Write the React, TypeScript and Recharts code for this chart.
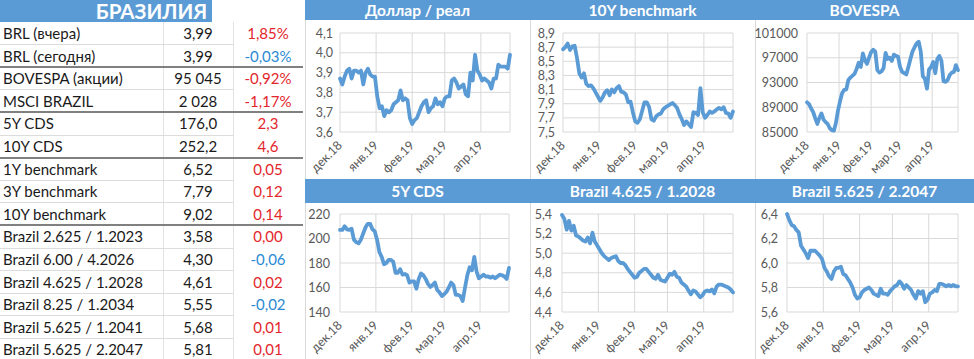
import React from 'react';
import { LineChart, Line, XAxis, YAxis, CartesianGrid } from 'recharts';

// ---------- DATA ----------
// x positions: days since 1 Dec 2018
const days = [0,2,4,6,8,10,12,14,16,18,20,22,24,26,28,30,32,34,36,38,40,42,44,46,48,50,52,54,56,58,60,62,64,66,68,70,72,74,76,78,80,82,84,86,88,90,92,94,96,98,100,102,104,106,108,110,112,114,116,118,120,122,124,126,128,130,132,134,136,138,140,142,144,146];
const monthTicks = [0, 31, 62, 90, 121];
const monthLabels = ['дек.18', 'янв.19', 'фев.19', 'мар.19', 'апр.19'];

const usdBrl = [
  3.87,3.84,3.88,3.91,3.92,3.87,3.91,3.91,3.90,3.91,
  3.84,3.90,3.92,3.89,3.88,3.88,3.78,3.72,3.73,3.68,
  3.71,3.70,3.71,3.74,3.75,3.76,3.81,3.76,3.77,3.76,
  3.67,3.64,3.66,3.67,3.70,3.73,3.75,3.76,3.70,3.72,
  3.73,3.77,3.74,3.75,3.73,3.77,3.78,3.78,3.86,3.87,
  3.85,3.82,3.83,3.84,3.79,3.78,3.90,3.86,3.99,3.91,
  3.89,3.86,3.87,3.86,3.85,3.82,3.87,3.87,3.94,3.93,
  3.93,3.93,3.92,3.99];
const bench10y = [
  8.67,8.70,8.75,8.66,8.71,8.72,8.55,8.33,8.27,8.33,
  8.18,8.15,8.16,8.12,8.06,8.00,7.94,7.99,8.06,8.09,
  8.02,8.10,8.06,8.12,8.15,8.07,8.06,8.03,7.92,7.93,
  7.78,7.65,7.63,7.68,7.80,7.92,7.92,7.85,7.68,7.66,
  7.72,7.75,7.76,7.82,7.85,7.87,7.89,7.91,7.88,7.84,
  7.75,7.68,7.60,7.65,7.61,7.57,7.78,7.77,7.74,8.12,
  7.78,7.70,7.74,7.79,7.77,7.79,7.82,7.84,7.82,7.85,
  7.77,7.76,7.70,7.79];
const bovespa = [
  89800,89500,88800,88200,87200,86300,87300,88000,87000,86600,
  86300,85600,85300,85200,86500,88500,90000,91300,91800,91900,
  93400,93800,94100,94400,95200,96200,95500,97700,96600,96000,
  97000,97900,98300,98000,95000,94600,94800,95300,97800,96800,
  97000,96500,97500,97300,97200,95500,94700,94500,94300,95500,
  96800,98000,98700,99300,99600,98000,94000,93600,92000,95100,
  95500,96300,94500,96800,97300,96500,93200,93100,93400,94200,
  94600,94700,95800,95000];
const cds5y = [
  207,207,210,207.5,207,208,199,197,196,199,
  204,209,212,212,207.5,206,199,189,185,179,
  180,182.5,182.5,181,172,172,175,170.5,171,170,
  164,165,165,159,167,171.5,170,167,163,160.5,
  162,164,158,156,153,154.5,156.5,160,164,162,
  154,154,153,149,160,170,176.5,174,185,173,
  167.5,169,170.5,169,169,168,169,167.5,169,170.5,
  170,169,167,176];
const brazil2028 = [
  5.39,5.35,5.24,5.33,5.23,5.28,5.18,5.17,5.15,5.13,
  5.12,5.16,5.10,5.21,5.12,5.08,5.04,5.00,4.97,4.95,
  4.93,4.95,4.96,4.97,4.92,4.90,4.90,4.88,4.84,4.81,
  4.78,4.75,4.76,4.80,4.82,4.84,4.84,4.81,4.78,4.75,
  4.74,4.78,4.73,4.72,4.71,4.75,4.79,4.78,4.81,4.76,
  4.75,4.70,4.68,4.66,4.62,4.58,4.62,4.61,4.58,4.55,
  4.57,4.61,4.62,4.61,4.63,4.59,4.66,4.68,4.68,4.67,
  4.66,4.65,4.63,4.60];
const brazil2047 = [
  6.40,6.35,6.31,6.30,6.27,6.25,6.14,6.11,6.08,6.04,
  6.10,6.10,6.10,6.08,6.06,6.03,5.96,5.93,5.89,5.87,
  5.93,5.96,5.96,5.97,5.91,5.90,5.87,5.84,5.80,5.74,
  5.71,5.72,5.76,5.78,5.79,5.80,5.78,5.75,5.74,5.73,
  5.79,5.75,5.75,5.74,5.77,5.79,5.81,5.82,5.85,5.83,
  5.79,5.82,5.80,5.78,5.74,5.71,5.77,5.75,5.77,5.68,
  5.70,5.75,5.76,5.78,5.77,5.83,5.83,5.82,5.81,5.82,
  5.81,5.82,5.81,5.81];

const usdBrlTicks = [3.6, 3.7, 3.8, 3.9, 4.0, 4.1];
const bench10yTicks = [7.5, 7.7, 7.9, 8.1, 8.3, 8.5, 8.7, 8.9];
const bovespaTicks = [85000, 89000, 93000, 97000, 101000];
const cds5yTicks = [140, 160, 180, 200, 220];
const brazil2028Ticks = [4.4, 4.6, 4.8, 5.0, 5.2, 5.4];
const brazil2047Ticks = [5.6, 5.8, 6.0, 6.2, 6.4];

const chartTitles = ['Доллар / реал', '10Y benchmark', 'BOVESPA', '5Y CDS', 'Brazil 4.625 / 1.2028', 'Brazil 5.625 / 2.2047'];

const tableTitle = 'БРАЗИЛИЯ';
const tableLabels = ['BRL (вчера)', 'BRL (сегодня)', 'BOVESPA (акции)', 'MSCI BRAZIL', '5Y CDS', '10Y CDS', '1Y benchmark', '3Y benchmark', '10Y benchmark', 'Brazil 2.625 / 1.2023', 'Brazil 6.00 / 4.2026', 'Brazil 4.625 / 1.2028', 'Brazil 8.25 / 1.2034', 'Brazil 5.625 / 1.2041', 'Brazil 5.625 / 2.2047'];
const tableValues = ['3,99', '3,99', '95 045', '2 028', '176,0', '252,2', '6,52', '7,79', '9,02', '3,58', '4,30', '4,61', '5,55', '5,68', '5,81'];
const tableChanges = ['1,85%', '-0,03%', '-0,92%', '-1,17%', '2,3', '4,6', '0,05', '0,12', '0,14', '0,00', '-0,06', '0,02', '-0,02', '0,01', '0,01'];
const changeTone = ['red', 'blue', 'red', 'red', 'red', 'red', 'red', 'red', 'red', 'red', 'blue', 'red', 'blue', 'red', 'red'];
const groupBreaks = [2, 4, 6, 9];

// ---------- STYLE ----------
const FONT = "Lato, 'Open Sans', sans-serif";
const BLUE = '#5b9bd5';
const AXIS_TEXT = '#595959';
const GRID = '#d9d9d9';
const RED = '#e3262b';
const TONE_BLUE = '#2a8ad4';
const TICK_FS = 12.5;

const comma1 = (v: number) => v.toFixed(1).replace('.', ',');
const plain = (v: number) => String(Math.round(v));

const monthName = (v: number) => {
  const i = monthTicks.indexOf(v);
  return i >= 0 ? monthLabels[i] : '';
};

const XTick = (props: any) => {
  const { x, y, payload } = props;
  return (
    <text
      transform={`translate(${x + 3},${y + 14}) rotate(-45)`}
      textAnchor="end"
      fill={AXIS_TEXT}
      fontSize={TICK_FS}
      fontFamily={FONT}
    >
      {monthName(payload.value)}
    </text>
  );
};

type Panel = {
  x: number; w: number; row: number; plotLeft: number; plotRight: number; yGap: number;
  values: number[]; ticks: number[]; fmt: (v: number) => string;
};

const panels: Panel[] = [
  { x: 305, w: 225, row: 0, plotLeft: 35, plotRight: 20, yGap: 7, values: usdBrl, ticks: usdBrlTicks, fmt: comma1 },
  { x: 530, w: 225, row: 0, plotLeft: 33, plotRight: 22, yGap: 8, values: bench10y, ticks: bench10yTicks, fmt: comma1 },
  { x: 755, w: 219, row: 0, plotLeft: 52, plotRight: 16, yGap: 9, values: bovespa, ticks: bovespaTicks, fmt: plain },
  { x: 305, w: 225, row: 1, plotLeft: 35, plotRight: 21, yGap: 10, values: cds5y, ticks: cds5yTicks, fmt: plain },
  { x: 530, w: 225, row: 1, plotLeft: 32, plotRight: 22, yGap: 10, values: brazil2028, ticks: brazil2028Ticks, fmt: comma1 },
  { x: 755, w: 219, row: 1, plotLeft: 32, plotRight: 16, yGap: 9, values: brazil2047, ticks: brazil2047Ticks, fmt: comma1 },
];

const rows = [
  { barTop: 0, barH: 20, chartTop: 20, chartH: 159, mTop: 13 },
  { barTop: 179, barH: 24, chartTop: 203, chartH: 156, mTop: 11 },
];

function MiniChart({ p }: { p: Panel }) {
  const r = rows[p.row];
  const data = days.map((d, i) => ({ d, v: p.values[i] }));
  const YTick = (props: any) => {
    const { x, y, payload } = props;
    return (
      <text x={x} y={y} dy={4.5} textAnchor="end" fill={AXIS_TEXT} fontSize={TICK_FS} fontFamily={FONT}>
        {p.fmt(payload.value)}
      </text>
    );
  };
  return (
    <div style={{ position: 'absolute', left: p.x, top: r.chartTop, width: p.w, height: r.chartH }}>
      <LineChart
        width={p.w}
        height={r.chartH}
        data={data}
        margin={{ top: r.mTop, right: p.plotRight, bottom: 0, left: 0 }}
      >
        <CartesianGrid stroke={GRID} strokeWidth={1} />
        <XAxis
          dataKey="d"
          type="number"
          domain={[0, 146]}
          ticks={monthTicks}
          interval={0}
          axisLine={false}
          tickLine={false}
          tickSize={0}
          tickMargin={0}
          height={47}
          tick={<XTick />}
        />
        <YAxis
          type="number"
          domain={[p.ticks[0], p.ticks[p.ticks.length - 1]]}
          ticks={p.ticks}
          interval={0}
          axisLine={false}
          tickLine={false}
          tickSize={0}
          tickMargin={p.yGap}
          width={p.plotLeft}
          tick={<YTick />}
        />
        <Line
          dataKey="v"
          type="linear"
          stroke={BLUE}
          strokeWidth={3.8}
          strokeLinejoin="round"
          strokeLinecap="round"
          dot={false}
          isAnimationActive={false}
        />
      </LineChart>
    </div>
  );
}

const ROW0 = 22;
const ROWH = 22.6;
const TABLE_FS = 15;

export default function App() {
  return (
    <div style={{ position: 'absolute', left: 0, top: 0, width: 974, height: 359, background: '#fff', overflow: 'hidden', fontFamily: FONT }}>
      {/* Table header */}
      <div style={{ position: 'absolute', left: 0, top: 0, width: 212, height: 22, background: BLUE }} />
      <div style={{ position: 'absolute', left: 0, top: 0, width: 303, height: 22, lineHeight: '22px', textAlign: 'center', color: '#fff', fontWeight: 700, fontSize: 20.5 }}>
        {tableTitle}
      </div>
      {/* column lines */}
      <div style={{ position: 'absolute', left: 163, top: ROW0, width: 1, height: 359 - ROW0, background: '#e3e3e3' }} />
      <div style={{ position: 'absolute', left: 233, top: ROW0, width: 1, height: 359 - ROW0, background: '#e3e3e3' }} />
      {tableLabels.map((lab, i) => {
        const top = ROW0 + i * ROWH;
        const thick = groupBreaks.includes(i + 1);
        const cell = { position: 'absolute' as const, top, height: ROWH, lineHeight: `${ROWH}px`, fontSize: TABLE_FS, whiteSpace: 'nowrap' as const };
        return (
          <React.Fragment key={i}>
            {i < tableLabels.length - 1 && (
              thick ? (
                <div style={{ position: 'absolute', left: 0, top: top + ROWH - 1, width: 303, height: 2, background: '#808080' }} />
              ) : (
                <div style={{ position: 'absolute', left: 0, top: top + ROWH - 0.5, width: 233, height: 1, background: '#dcdcdc' }} />
              )
            )}
            <div style={{ ...cell, left: 3, color: '#1a1a1a' }}>{lab}</div>
            <div style={{ ...cell, left: 163, width: 70, color: '#1a1a1a', textAlign: 'center' }}>{tableValues[i]}</div>
            <div style={{ ...cell, left: 233, width: 70, color: changeTone[i] === 'blue' ? TONE_BLUE : RED, textAlign: 'center' }}>{tableChanges[i]}</div>
          </React.Fragment>
        );
      })}

      {/* title bars */}
      {rows.map((r, i) => (
        <div key={'bar' + i} style={{ position: 'absolute', left: 305, top: r.barTop, width: 669, height: r.barH, background: BLUE }} />
      ))}
      {panels.map((p, i) => {
        const r = rows[p.row];
        return (
          <div key={'t' + i} style={{ position: 'absolute', left: p.x, top: r.barTop, width: p.w, height: r.barH, lineHeight: `${r.barH}px`, textAlign: 'center', color: '#fff', fontWeight: 700, fontSize: 15.5, whiteSpace: 'nowrap' }}>
            {chartTitles[i]}
          </div>
        );
      })}
      {/* panel separators */}
      {rows.map((r, ri) => [305, 530, 755].map((x) => (
        <div key={`s${ri}-${x}`} style={{ position: 'absolute', left: x, top: r.chartTop, width: 1, height: r.chartH, background: GRID }} />
      )))}
      {panels.map((p, i) => <MiniChart key={i} p={p} />)}
    </div>
  );
}
